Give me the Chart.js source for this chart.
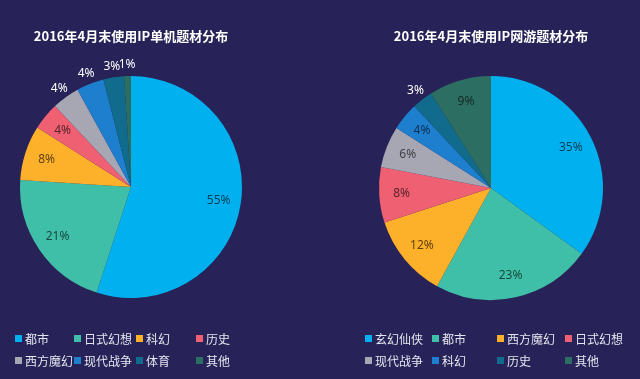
<!DOCTYPE html>
<html>
<head>
<meta charset="utf-8">
<script src="https://cdn.jsdelivr.net/npm/chart.js@4"></script>
<style>
  html, body { margin: 0; padding: 0; background: #272257; }
  #wrap { position: relative; width: 640px; height: 379px; background: #272257; }
  canvas { position: absolute; top: 0; }
  #left { left: 0; }
  #right { left: 320px; }
</style>
</head>
<body>
<div id="wrap">
  <canvas id="left" width="320" height="379"></canvas>
  <canvas id="right" width="320" height="379"></canvas>
</div>
<script>
// 单机
const singleTitle = "2016年4月末使用IP单机题材分布";
const singleLabels = ["都市", "日式幻想", "科幻", "历史", "西方魔幻", "现代战争", "体育", "其他"];
const singleValues = [55, 21, 8, 4, 4, 4, 3, 1];
const singleColors = ["#00b0ef", "#40bfa8", "#fdb12a", "#ee6072", "#a7a7b4", "#1e7fcf", "#116b8c", "#2d6e62"];

// 网游
const onlineTitle = "2016年4月末使用IP网游题材分布";
const onlineLabels = ["玄幻仙侠", "都市", "西方魔幻", "日式幻想", "现代战争", "科幻", "历史", "其他"];
const onlineValues = [35, 23, 12, 8, 6, 4, 3, 9];
const onlineColors = ["#00b0ef", "#40bfa8", "#fdb12a", "#ee6072", "#a7a7b4", "#1e7fcf", "#116b8c", "#2d6e62"];

const cjkFont = "'Noto Sans CJK SC', 'Noto Sans', sans-serif";

function darken(hex, f) {
  const n = parseInt(hex.slice(1), 16);
  const r = Math.round(((n >> 16) & 255) * f);
  const g = Math.round(((n >> 8) & 255) * f);
  const b = Math.round((n & 255) * f);
  return `rgb(${r},${g},${b})`;
}

// percent labels on slices
const sliceLabels = {
  id: "sliceLabels",
  afterDatasetsDraw(chart, args, opts) {
    const ctx = chart.ctx;
    const meta = chart.getDatasetMeta(0);
    const ds = chart.data.datasets[0];
    ctx.save();
    ctx.font = "12px 'Noto Sans', sans-serif";
    ctx.textAlign = "center";
    ctx.textBaseline = "middle";
    meta.data.forEach((arc, i) => {
      const p = arc.getProps(["x", "y", "startAngle", "endAngle", "outerRadius"], true);
      const mid = (p.startAngle + p.endAngle) / 2;
      const outside = opts.outside.includes(i);
      const d = p.outerRadius * (outside ? 1.1 : 0.8);
      ctx.fillStyle = outside ? "#ffffff" : darken(ds.backgroundColor[i], 0.38);
      ctx.fillText(ds.data[i] + "%", p.x + Math.cos(mid) * d, p.y + Math.sin(mid) * d);
    });
    ctx.restore();
  }
};

// legend in a fixed grid under the pie
const gridLegend = {
  id: "gridLegend",
  afterDraw(chart, args, opts) {
    const ctx = chart.ctx;
    const ds = chart.data.datasets[0];
    ctx.save();
    ctx.font = "12px " + cjkFont;
    ctx.textBaseline = "middle";
    ctx.textAlign = "left";
    chart.data.labels.forEach((label, i) => {
      const x = opts.cols[i % 4];
      const y = opts.rows[Math.floor(i / 4)];
      ctx.fillStyle = ds.backgroundColor[i];
      ctx.fillRect(x, y - 4, 7, 7);
      ctx.fillStyle = "#e6e6f0";
      ctx.fillText(label, x + 10, y);
    });
    ctx.restore();
  }
};

function makePie(id, title, labels, values, colors, padding, cols, outside) {
  return new Chart(document.getElementById(id), {
    type: "pie",
    data: {
      labels: labels,
      datasets: [{
        data: values,
        backgroundColor: colors,
        borderWidth: 0,
      }],
    },
    options: {
      responsive: false,
      animation: false,
      layout: { padding: padding },
      plugins: {
        legend: { display: false },
        tooltip: { enabled: false },
        title: {
          display: true,
          text: title,
          color: "#ffffff",
          font: { family: cjkFont, size: 13, weight: "bold" },
          padding: { top: 28, bottom: 32.4 },
        },
        sliceLabels: { outside: outside },
        gridLegend: { cols: cols, rows: [339, 361] },
      },
    },
    plugins: [sliceLabels, gridLegend],
  });
}

makePie("left", singleTitle, singleLabels, singleValues, singleColors,
  { top: 0, bottom: 81, left: 20, right: 78 }, [15, 74, 136, 196], [4, 5, 6, 7]);
makePie("right", onlineTitle, onlineLabels, onlineValues, onlineColors,
  { top: 0, bottom: 79, left: 59, right: 37 }, [45, 112, 177, 245], [6]);
</script>
</body>
</html>
